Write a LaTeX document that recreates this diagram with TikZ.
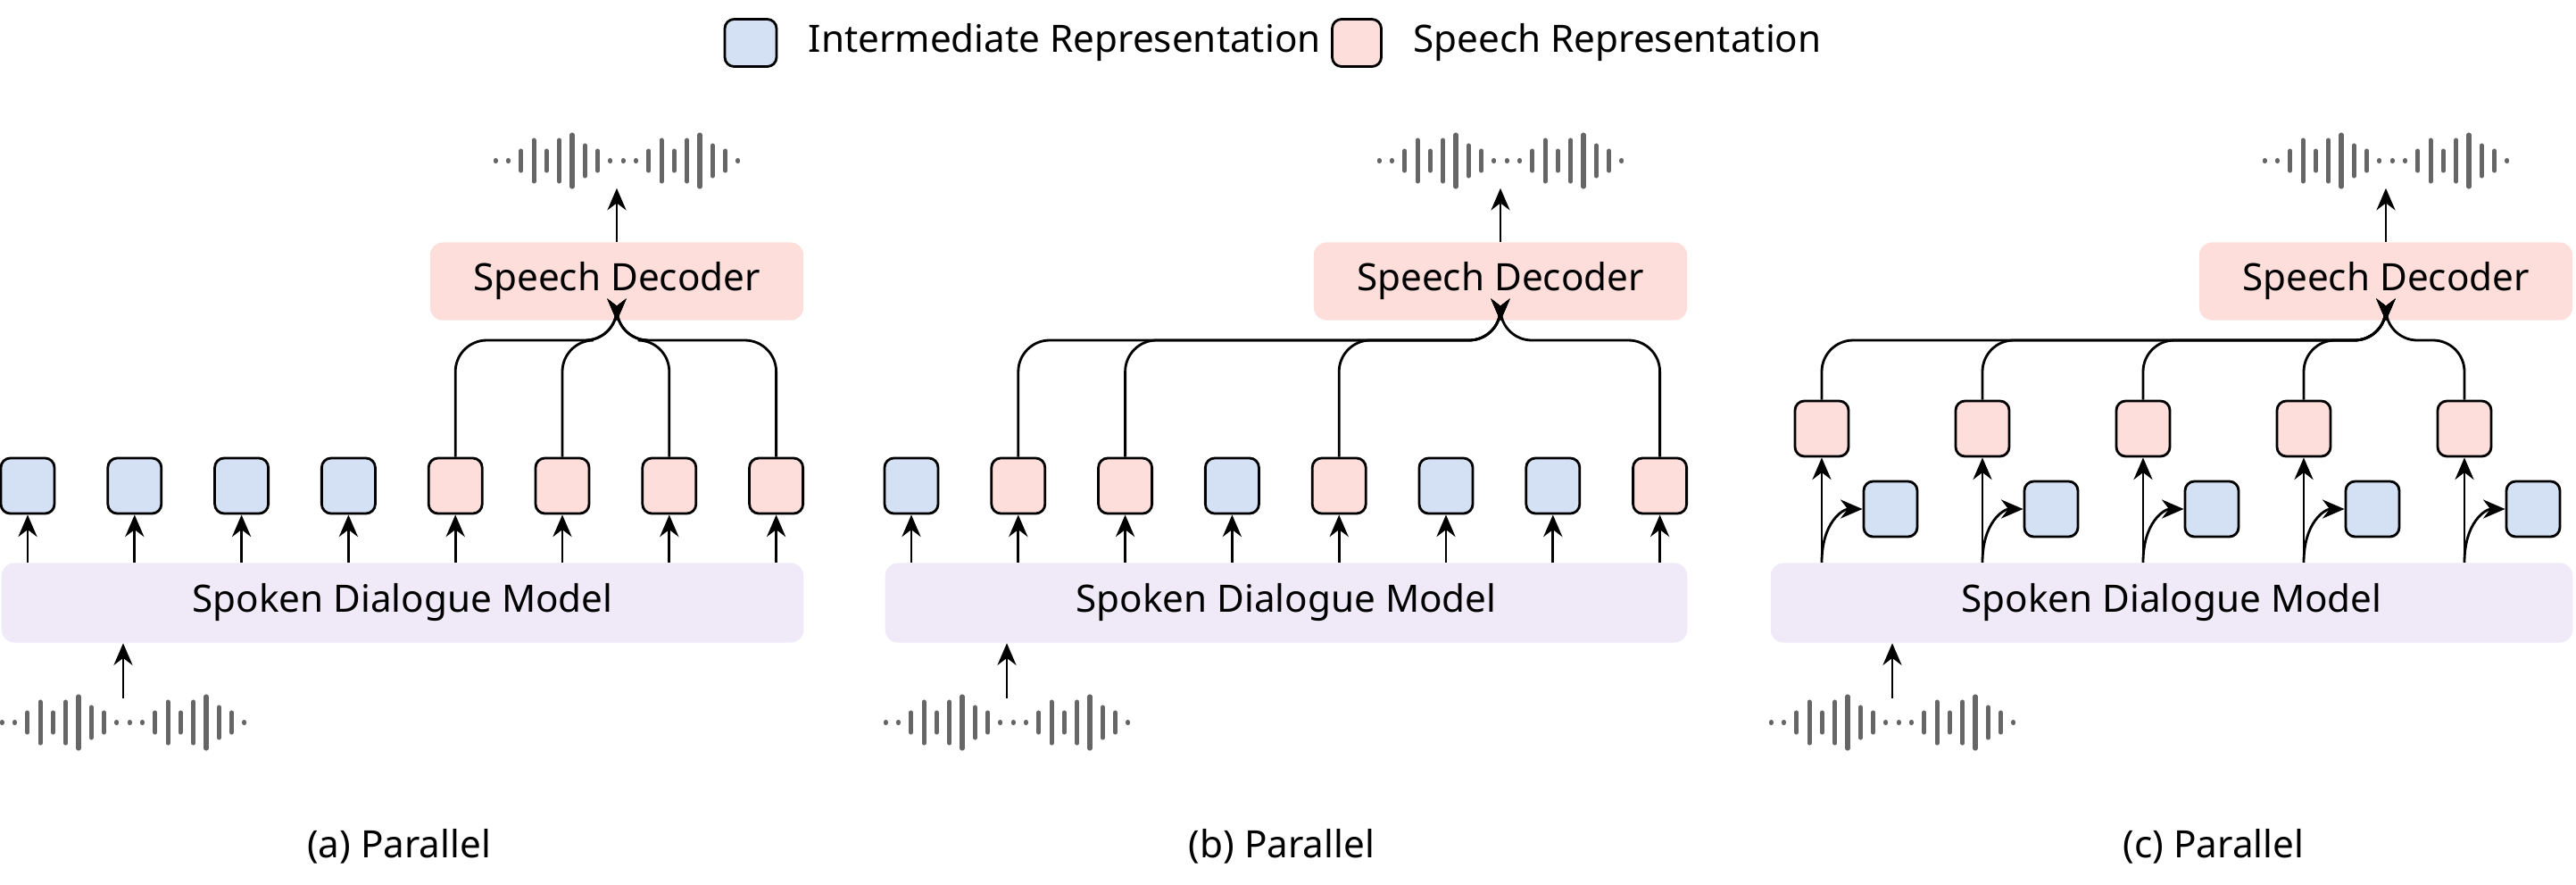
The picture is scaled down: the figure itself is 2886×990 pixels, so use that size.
\documentclass[tikz,border=0pt]{standalone}
\usepackage{fontspec}
\setmainfont{Noto Sans}
\usetikzlibrary{positioning,arrows.meta,calc}

\definecolor{interblue}{HTML}{D4E1F4}
\definecolor{speechpink}{HTML}{FDDEDB}
\definecolor{modelpurple}{HTML}{F0EAF8}
\definecolor{wavegray}{HTML}{666666}

\tikzset{
    token/.style = {draw=black, line width=0.8pt, rounded corners=3pt, minimum width=0.6cm, minimum height=0.62cm, inner sep=0pt},
    inter/.style = {token, fill=interblue},
    speech/.style = {token, fill=speechpink},
    sdm/.style = {fill=modelpurple, rounded corners=4pt, minimum width=8.98cm, minimum height=0.89cm, font=\fontsize{12}{14}\selectfont},
    decoder/.style = {fill=speechpink, rounded corners=4pt, minimum width=4.18cm, minimum height=0.87cm, font=\fontsize{12}{14}\selectfont},
    arr/.style = {-{Stealth[length=7pt,width=6pt]}, line width=0.8pt},
    merge/.style = {arr, rounded corners=10pt},
    wavebar/.style = {wavegray, line width=1.45pt, line cap=round},
    caption/.style = {font=\fontsize{12}{14}\selectfont},
}

% bars of a waveform centred on a named coordinate
\newcommand{\waveform}[1]{
    \foreach \h [count=\i] in {0.5,0.5,11,23,11,23,29,17,11,0.5,0.5,0.5,11,23,11,23,29,17,11,0.5}
        \draw[wavebar] ($(#1)+({(\i-10.5)*14.3},{-\h})$) -- ++(0,{2*\h});
}

\begin{document}
\begin{tikzpicture}[x=0.01cm, y=-0.01cm]
    \useasboundingbox (0,0) rectangle (2886,990);

    % legend
    \node [inter, minimum width=0.58cm, minimum height=0.53cm] (legI) at (841,48) {};
    \node [right = 0.22cm of legI, caption] (legIt) {Intermediate Representation};
    \node [speech, minimum width=0.55cm, minimum height=0.53cm] (legS) at (1520,48) {};
    \node [right = 0.22cm of legS, caption] (legSt) {Speech Representation};

    % common parts of the three panels
    \foreach \off/\p/\cx in {0/a/447, 990/b/446, 1982/c/498} {
        \node [sdm] (sdm-\p) at (451+\off,675) {Spoken Dialogue Model};
        \node [decoder] (dec-\p) at (691+\off,315) {Speech Decoder};
        \coordinate (wout-\p) at (691+\off,180);
        \coordinate (win-\p) at (138+\off,809);
        \coordinate (wtop-\p) at (138+\off,782);
        \coordinate (join-\p) at (691+\off,381);
        \waveform{wout-\p}
        \waveform{win-\p}
        \draw[arr] (dec-\p.north) -- ++(0,-60);
        \draw[arr] (wtop-\p) -- (sdm-\p.south -| wtop-\p);
        \node [caption] (cap-\p) at (\cx+\off,948) {(\p) \ifx\p a Sequential\else\ifx\p b Interleaving\else Parallel\fi\fi};
    }

    % (a) sequential
    \foreach \t [count=\k from 0] in {inter,inter,inter,inter,speech,speech,speech,speech} {
        \node [\t] (a\k) at (31+119.8*\k,544) {};
        \draw[arr] (sdm-a.north -| a\k) -- (a\k.south);
    }
    \foreach \k in {4,...,7}
        \draw[merge] (a\k.north) |- (join-a) -- (dec-a.south);

    % (b) interleaving
    \foreach \t [count=\k from 0] in {inter,speech,speech,inter,speech,inter,inter,speech} {
        \node [\t] (b\k) at (1021+119.8*\k,544) {};
        \draw[arr] (sdm-b.north -| b\k) -- (b\k.south);
    }
    \foreach \k in {1,2,4,7}
        \draw[merge] (b\k.north) |- (join-b) -- (dec-b.south);

    % (c) parallel
    \foreach \k in {0,...,4} {
        \node [speech] (cs\k) at (2041+180*\k,480) {};
        \node [inter] (ci\k) at (2118+180*\k,570) {};
        \draw[arr] (sdm-c.north -| cs\k) -- (cs\k.south);
        \draw[arr] (sdm-c.north -| cs\k) .. controls +(0,-45) and +(-22,0) .. (ci\k.west);
        \draw[merge] (cs\k.north) |- (join-c) -- (dec-c.south);
    }
\end{tikzpicture}
\end{document}
